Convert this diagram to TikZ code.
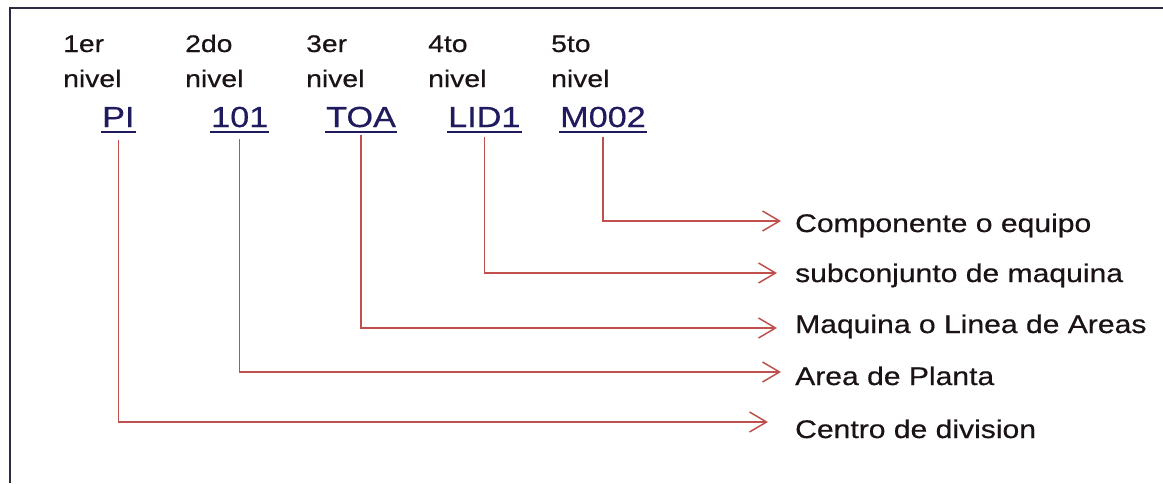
\documentclass[tikz,border=0pt]{standalone}
\usepackage{fontspec}
\setmainfont{Liberation Sans}
\newfontfamily\stretchedsans[FakeStretch=1.18,FakeBold=0.5]{Liberation Sans}
\usetikzlibrary{arrows.meta,calc}
\definecolor{framec}{HTML}{2E2A40}
\definecolor{linkc}{HTML}{1F1B5E}
\definecolor{connc}{HTML}{C0504D}
\definecolor{txtc}{HTML}{1A1216}
\begin{document}
\begin{tikzpicture}[x=1pt,y=-1pt,
  lvl/.style={anchor=base west,inner sep=0pt,font=\stretchedsans\fontsize{24}{28}\selectfont,text=txtc},
  code/.style={anchor=base west,inner sep=0pt,font=\stretchedsans\fontsize{29}{34}\selectfont,text=linkc},
  desc/.style={anchor=base west,inner sep=0pt,font=\stretchedsans\fontsize{25.5}{30}\selectfont,text=txtc},
  uline/.style={draw=linkc,line width=2pt},
  conn/.style={draw=connc,line width=1.5pt,-{Straight Barb[length=17pt,width=20pt,line width=1.5pt]}},
  frameline/.style={draw=framec,line width=2.5pt}]
\useasboundingbox (0,0) rectangle (1163,483);
\fill[white] (0,0) rectangle (1163,483);
\draw[frameline] (10,483) -- (10,8) -- (1163,8);

% level labels
\node[lvl] (l1a) at (63,52) {1er};
\node[lvl] (l1b) at (63,87) {nivel};
\node[lvl] (l2a) at (185,52) {2do};
\node[lvl] (l2b) at (185,87) {nivel};
\node[lvl] (l3a) at (306,52) {3er};
\node[lvl] (l3b) at (306,87) {nivel};
\node[lvl] (l4a) at (428,52) {4to};
\node[lvl] (l4b) at (428,87) {nivel};
\node[lvl] (l5a) at (551,52) {5to};
\node[lvl] (l5b) at (551,87) {nivel};

% codes
\node[code] (pi) at (102,127) {PI};
\node[code] (c101) at (211,127) {101};
\node[code] (toa) at (326,127) {TOA};
\node[code] (lid) at (448,127) {LID1};
\node[code] (m002) at (560,127) {M002};
\foreach \n in {pi,c101,toa,lid,m002}{
  \draw[uline] ($(\n.base west)+(-1,5)$) -- ($(\n.base east)+(1,5)$);
}

% descriptions
\node[desc] (d5) at (795,232) {Componente o equipo};
\node[desc] (d4) at (795,282) {subconjunto de maquina};
\node[desc] (d3) at (795,333) {Maquina o Linea de Areas};
\node[desc] (d2) at (795,385) {Area de Planta};
\node[desc] (d1) at (795,438) {Centro de division};

% arrow ends
\coordinate (e5) at (781,221);
\coordinate (e4) at (777,273);
\coordinate (e3) at (777,328);
\coordinate (e2) at (781,372);
\coordinate (e1) at (768,422);

\draw[conn] ([yshift=-10pt]m002.base) |- (e5);
\draw[conn] ([yshift=-10pt]lid.base) |- (e4);
\draw[conn] ([yshift=-8pt]toa.base) |- (e3);
\draw[conn] ([yshift=-12pt]c101.base) |- (e2);
\draw[conn] ([yshift=-13pt]pi.base) |- (e1);
\end{tikzpicture}
\end{document}
